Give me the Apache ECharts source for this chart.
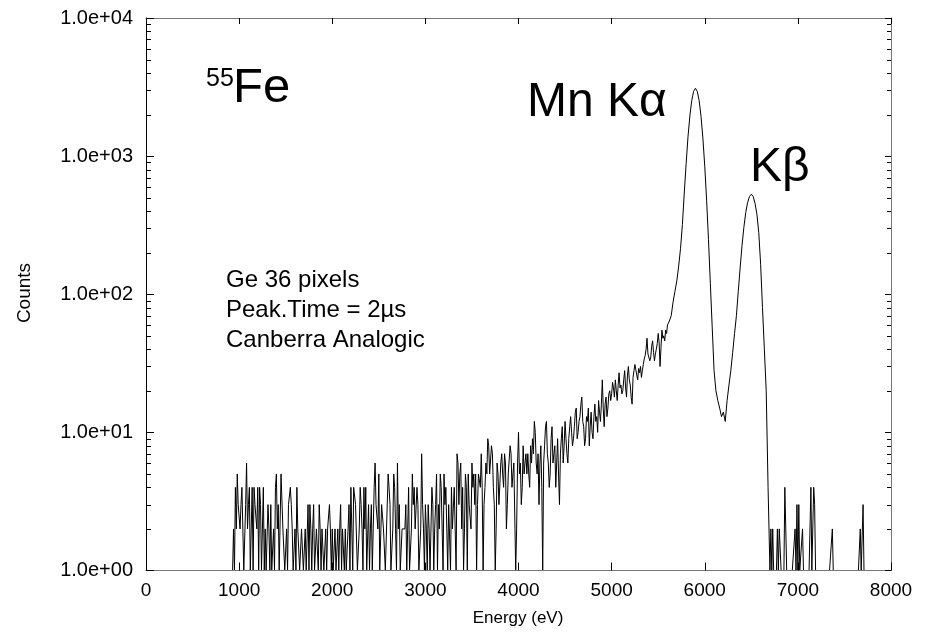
<!DOCTYPE html>
<html>
<head>
<meta charset="utf-8">
<script src="https://cdn.jsdelivr.net/npm/echarts@6/dist/echarts.min.js"></script>
<style>
  html, body { margin: 0; padding: 0; background: #fff; }
  #chart { width: 926px; height: 634px; }
</style>
</head>
<body>
<div id="chart"></div>
<script>
// ---- data ----
// Segment A: 10 eV channels from 900 eV to 5590 eV (noisy background)
const segAStart = 900, segAWidth = 10;
const countsA0900 = [1,1,1,1,2,1,4,2,5,3];
const countsA1000 = [3,2,3,4,2,1,1,3,6,2, 3,4,1,2,4,1,4,3,3,2, 4,1,4,3,1,2,4,1,2,1, 1,3,2,1,3,1,1,2,1,4, 5,2,3,1,1,5,5,2,2,1,
                     1,2,1,3,3,4,3,2,1,1, 2,1,4,2,2,1,1,2,2,1, 1,2,1,1,3,1,3,2,1,2, 3,1,1,2,2,1,3,2,1,2, 2,1,1,2,1,2,2,3,2,1];
const countsA2000 = [2,1,1,2,1,1,2,1,2,3, 1,2,2,1,2,1,1,2,3,1, 4,2,1,4,4,3,3,1,1,2, 4,3,2,1,4,2,4,1,1,3, 1,2,3,1,2,4,6,3,3,2,
                     5,1,1,3,3,2,2,1,1,1, 5,4,3,1,1,2,5,4,2,1, 6,2,3,1,1,2,2,2,2,3, 1,2,4,1,1,2,5,3,4,2, 2,4,3,1,1,2,7,3,2,1];
const countsA3000 = [3,2,1,3,2,1,1,4,3,1, 2,3,5,1,3,2,5,4,2,1, 5,3,4,2,1,3,3,1,4,2, 2,4,4,1,7,6,3,5,6,2, 4,1,2,5,4,1,5,3,3,2,
                     6,4,5,3,5,1,3,5,5,4, 7,4,1,3,4,6,5,9,8,5, 5,8,7,4,3,1,2,6,5,3, 3,6,7,5,4,7,6,2,3,5, 5,8,7,4,5,6,6,1,2,6];
const countsA4000 = [10,5,6,3,4,8,5,6,7,5, 7,5,4,8,6,9,7,12,10,6, 5,7,3,6,8,4,1,6,8,11, 12,7,6,4,5,9,11,6,7,8, 4,6,9,5,3,7,9,11,6,8,
                     12,9,7,6,9,11,13,10,8,9, 11,14,15,9,10,12,13,16,18,12, 11,8,9,13,12,15,8,11,14,10, 9,13,16,12,13,10,17,14,12,16, 24,15,11,16,18,13,15,19,20,17];
const countsA5000 = [19,23,21,18,24,20,17,22,27,21, 22,19,20,24,28,21,18,26,30,24, 22,18,16,25,28,31,32,26,24,29, 27,30,25,28,31,34,36,40,48,37,
                     38,33,35,42,46,38,33,37,40,44, 52,45,30,41,55,48,50,46,55,52];

// Segment B: 20 eV channels from 5600 eV to 6680 eV (Mn K alpha / K beta peaks)
const segBStart = 5600, segBWidth = 20;
const countsB5600 = [60,64,70,88,105,125,160,215,320,540, 880,1380,1950,2520,2940,3100,2940,2520,1940,1350];
const countsB6000 = [845,480,250,120,58,28,20,17,15,13, 14,12,17,22,28,38,52,70,105,155, 225,305,390,460,510,530,510,455,380,280, 165,80,40,20,4];

// Segment C: 10 eV channels from 6700 eV to 7720 eV (sparse tail)
const segCStart = 6700, segCWidth = 10;
const countsC6700 = [1,2,1,2,1,1,1,1,2,1, 2,2,1,1,1,1,4,2,1,1, 1,1,1,1,1,1,1,2,1,3];
const countsC7000 = [1,3,1,1,1,2,1,1,1,1, 1,1,1,1,4,1,1,4,3,1, 1,1,1,1,1,1,1,1,1,1, 1,1,1,1,1,1,1,2,1,1,
                     1,1,1,1,1,1,1,1,1,1, 1,1,1,1,1,1,1,1,1,1, 1,1,1,1,1,1,1,2,1,1, 3,1,1];

const xTickValues = [0,1000,2000,3000,4000,5000,6000,7000,8000];
const yTickLabels = ['1.0e+00','1.0e+01','1.0e+02','1.0e+03','1.0e+04'];
const minorTickValues = [2,3,4,5,6,7,8,9, 20,30,40,50,60,70,80,90, 200,300,400,500,600,700,800,900, 2000,3000,4000,5000,6000,7000,8000,9000];

const countsA = [].concat(countsA0900, countsA1000, countsA2000, countsA3000, countsA4000, countsA5000);
const countsB = [].concat(countsB5600, countsB6000);
const countsC = [].concat(countsC6700, countsC7000);
const spectrum = countsA.map((c, i) => [segAStart + i * segAWidth, c])
  .concat(countsB.map((c, i) => [segBStart + i * segBWidth, c]))
  .concat(countsC.map((c, i) => [segCStart + i * segCWidth, c]));

const FONT = '"Liberation Sans", Arial, sans-serif';

const chart = echarts.init(document.getElementById('chart'), null, { renderer: 'canvas' });
const option = {
  animation: false,
  backgroundColor: '#ffffff',
  textStyle: { fontFamily: FONT },
  grid: { left: 146, right: 35, top: 18, bottom: 63.5 },
  xAxis: [
    {
      type: 'value', position: 'bottom', z: 6,
      min: xTickValues[0], max: xTickValues[xTickValues.length - 1], interval: 1000,
      axisLine: { show: true, onZero: false, lineStyle: { color: '#777', width: 1 } },
      axisTick: { show: true, inside: true, length: 8, lineStyle: { color: '#000' } },
      axisLabel: { color: '#000', fontSize: 19, margin: 11, fontFamily: FONT, formatter: v => String(v) },
      splitLine: { show: false }
    },
    {
      type: 'value', position: 'top', z: 6,
      min: xTickValues[0], max: xTickValues[xTickValues.length - 1], interval: 1000,
      axisLine: { show: true, onZero: false, lineStyle: { color: '#777', width: 1 } },
      axisTick: { show: true, inside: true, length: 6, lineStyle: { color: '#000' } },
      axisLabel: { show: false },
      splitLine: { show: false }
    }
  ],
  yAxis: [
    {
      type: 'log', logBase: 10, min: 1, max: 10000, position: 'left', z: 6,
      axisLine: { show: true, onZero: false, lineStyle: { color: '#000', width: 1 } },
      axisTick: { show: true, inside: true, length: 8, lineStyle: { color: '#000' } },
      axisLabel: {
        color: '#000', fontSize: 20, margin: 13, fontFamily: FONT,
        formatter: v => yTickLabels[Math.round(Math.log10(v))]
      },
      splitLine: { show: false }
    },
    {
      type: 'log', logBase: 10, min: 1, max: 10000, position: 'right', z: 6,
      axisLine: { show: true, onZero: false, lineStyle: { color: '#777', width: 1 } },
      axisTick: { show: true, inside: true, length: 6, lineStyle: { color: '#000' } },
      axisLabel: { show: false },
      splitLine: { show: false }
    }
  ],
  series: [
    {
      type: 'line',
      xAxisIndex: 0, yAxisIndex: 0,
      data: spectrum,
      showSymbol: false,
      symbol: 'none',
      clip: true,
      lineStyle: { color: '#000', width: 1 },
      emphasis: { disabled: true },
      z: 1
    },
    {
      type: 'custom',
      xAxisIndex: 0, yAxisIndex: 0,
      silent: true,
      clip: false,
      data: minorTickValues.map(v => [0, v]),
      renderItem: function (params, api) {
        const cs = params.coordSys;
        const y = Math.round(api.coord([0, api.value(1)])[1]) + 0.5;
        return {
          type: 'group',
          children: [
            { type: 'line', shape: { x1: cs.x, y1: y, x2: cs.x + 5, y2: y }, style: { stroke: '#000', lineWidth: 1 } },
            { type: 'line', shape: { x1: cs.x + cs.width - 4, y1: y, x2: cs.x + cs.width, y2: y }, style: { stroke: '#000', lineWidth: 1 } }
          ]
        };
      },
      z: 7
    }
  ],
  graphic: [
    { type: 'text', x: 206, y: 79, style: { text: '55', font: '25px ' + FONT, fill: '#000', align: 'left', verticalAlign: 'middle' } },
    { type: 'text', x: 233, y: 88, style: { text: 'Fe', font: '49px ' + FONT, fill: '#000', align: 'left', verticalAlign: 'middle' } },
    { type: 'text', x: 527, y: 103, style: { text: 'Mn K\u03b1', font: '48px ' + FONT, fill: '#000', align: 'left', verticalAlign: 'middle' } },
    { type: 'text', x: 750, y: 168, style: { text: 'K\u03b2', font: '48px ' + FONT, fill: '#000', align: 'left', verticalAlign: 'middle' } },
    { type: 'text', x: 226, y: 265, style: { text: 'Ge 36 pixels\nPeak.Time = 2\u00b5s\nCanberra Analogic', font: '24px ' + FONT, lineHeight: 30, fill: '#000', align: 'left', verticalAlign: 'top' } },
    { type: 'text', x: 25, y: 293, rotation: Math.PI / 2, style: { text: 'Counts', font: '19px ' + FONT, fill: '#000', align: 'center', verticalAlign: 'middle' } },
    { type: 'text', x: 518, y: 618, style: { text: 'Energy (eV)', font: '17px ' + FONT, fill: '#000', align: 'center', verticalAlign: 'middle' } }
  ]
};
chart.setOption(option);
</script>
</body>
</html>
